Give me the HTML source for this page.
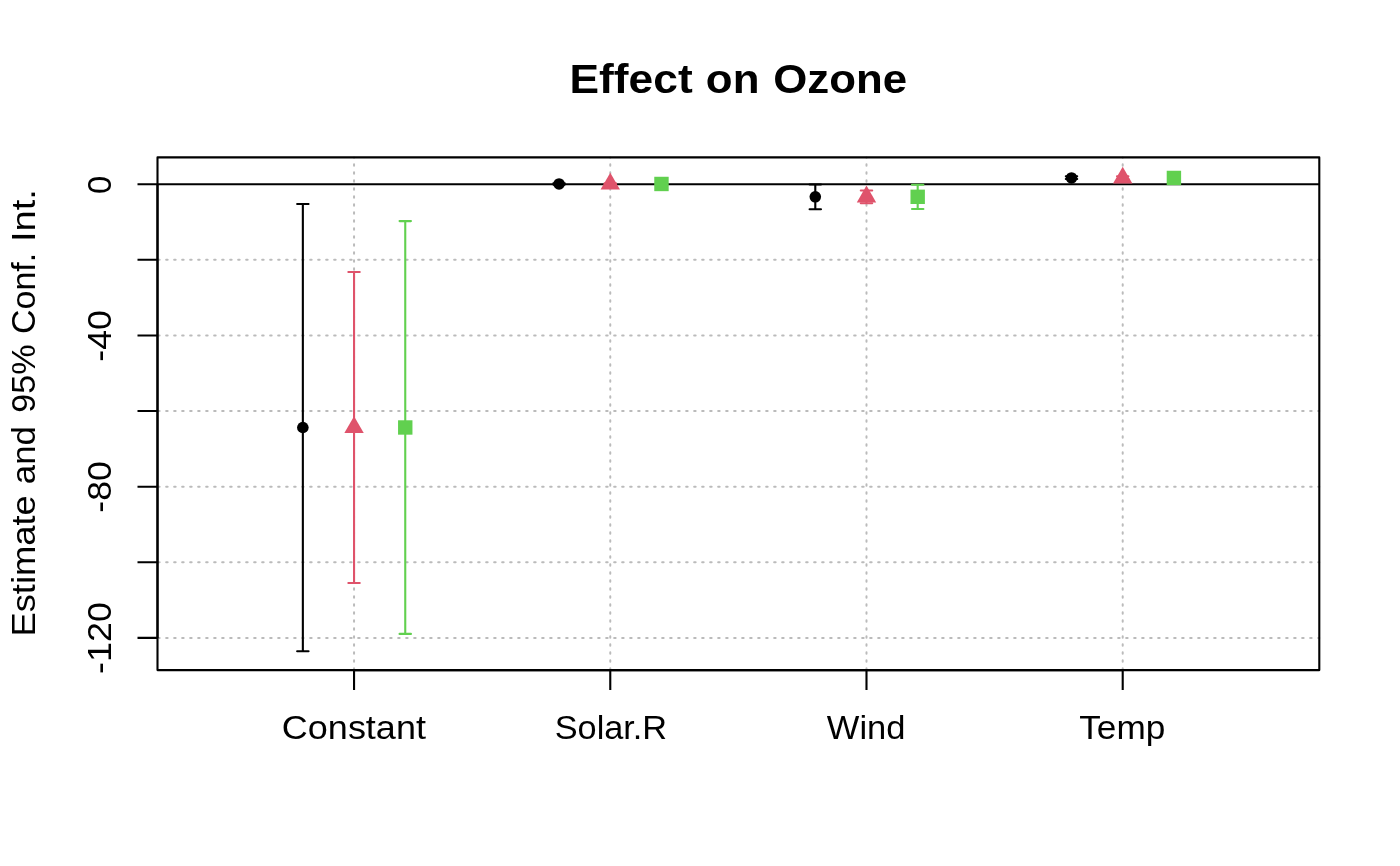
<!DOCTYPE html>
<html><head><meta charset="utf-8"><title>Effect on Ozone</title>
<style>
html,body{margin:0;padding:0;background:#fff;width:1400px;height:866px;overflow:hidden}
svg{display:block;will-change:transform}
text{font-family:"Liberation Sans",sans-serif;fill:#000}
</style></head><body>
<svg width="1400" height="866" viewBox="0 0 1400 866">
<rect width="1400" height="866" fill="#fff"/>
<line x1="354.05" y1="670.10" x2="354.05" y2="157.40" stroke="#bbbbbb" stroke-width="2" stroke-dasharray="1.5 6.5" stroke-dashoffset="-0.35" stroke-linecap="round"/>
<line x1="610.27" y1="670.10" x2="610.27" y2="157.40" stroke="#bbbbbb" stroke-width="2" stroke-dasharray="1.5 6.5" stroke-dashoffset="-0.35" stroke-linecap="round"/>
<line x1="866.49" y1="670.10" x2="866.49" y2="157.40" stroke="#bbbbbb" stroke-width="2" stroke-dasharray="1.5 6.5" stroke-dashoffset="-0.35" stroke-linecap="round"/>
<line x1="1122.71" y1="670.10" x2="1122.71" y2="157.40" stroke="#bbbbbb" stroke-width="2" stroke-dasharray="1.5 6.5" stroke-dashoffset="-0.35" stroke-linecap="round"/>
<line x1="157.50" y1="637.92" x2="1319.30" y2="637.92" stroke="#bbbbbb" stroke-width="2" stroke-dasharray="1.5 6.5" stroke-dashoffset="-0.65" stroke-linecap="round"/>
<line x1="157.50" y1="562.30" x2="1319.30" y2="562.30" stroke="#bbbbbb" stroke-width="2" stroke-dasharray="1.5 6.5" stroke-dashoffset="-0.65" stroke-linecap="round"/>
<line x1="157.50" y1="486.68" x2="1319.30" y2="486.68" stroke="#bbbbbb" stroke-width="2" stroke-dasharray="1.5 6.5" stroke-dashoffset="-0.65" stroke-linecap="round"/>
<line x1="157.50" y1="411.06" x2="1319.30" y2="411.06" stroke="#bbbbbb" stroke-width="2" stroke-dasharray="1.5 6.5" stroke-dashoffset="-0.65" stroke-linecap="round"/>
<line x1="157.50" y1="335.44" x2="1319.30" y2="335.44" stroke="#bbbbbb" stroke-width="2" stroke-dasharray="1.5 6.5" stroke-dashoffset="-0.65" stroke-linecap="round"/>
<line x1="157.50" y1="259.82" x2="1319.30" y2="259.82" stroke="#bbbbbb" stroke-width="2" stroke-dasharray="1.5 6.5" stroke-dashoffset="-0.65" stroke-linecap="round"/>
<line x1="157.50" y1="184.20" x2="1319.30" y2="184.20" stroke="#000" stroke-width="2.1"/>
<path d="M302.85 204.00V651.20M297.15 204.00H308.55M297.15 651.20H308.55" stroke="#000000" stroke-width="2.1" fill="none" stroke-linecap="round"/>
<path d="M354.05 272.00V583.00M348.35 272.00H359.75M348.35 583.00H359.75" stroke="#DF536B" stroke-width="2.1" fill="none" stroke-linecap="round"/>
<path d="M405.25 221.10V633.90M399.55 221.10H410.95M399.55 633.90H410.95" stroke="#61D04F" stroke-width="2.1" fill="none" stroke-linecap="round"/>
<path d="M559.07 183.20V184.60M553.37 183.20H564.77M553.37 184.60H564.77" stroke="#000000" stroke-width="2.1" fill="none" stroke-linecap="round"/>
<path d="M610.27 183.30V184.50M604.57 183.30H615.97M604.57 184.50H615.97" stroke="#DF536B" stroke-width="2.1" fill="none" stroke-linecap="round"/>
<path d="M661.47 183.20V184.60M655.77 183.20H667.17M655.77 184.60H667.17" stroke="#61D04F" stroke-width="2.1" fill="none" stroke-linecap="round"/>
<path d="M815.29 184.50V209.20M809.59 184.50H820.99M809.59 209.20H820.99" stroke="#000000" stroke-width="2.1" fill="none" stroke-linecap="round"/>
<path d="M866.49 190.50V203.30M860.79 190.50H872.19M860.79 203.30H872.19" stroke="#DF536B" stroke-width="2.1" fill="none" stroke-linecap="round"/>
<path d="M917.69 184.80V209.00M911.99 184.80H923.39M911.99 209.00H923.39" stroke="#61D04F" stroke-width="2.1" fill="none" stroke-linecap="round"/>
<path d="M1071.51 176.20V179.00M1065.81 176.20H1077.21M1065.81 179.00H1077.21" stroke="#000000" stroke-width="2.1" fill="none" stroke-linecap="round"/>
<path d="M1122.71 176.20V179.30M1117.01 176.20H1128.41M1117.01 179.30H1128.41" stroke="#DF536B" stroke-width="2.1" fill="none" stroke-linecap="round"/>
<path d="M1173.91 176.00V179.50M1168.21 176.00H1179.61M1168.21 179.50H1179.61" stroke="#61D04F" stroke-width="2.1" fill="none" stroke-linecap="round"/>
<circle cx="302.85" cy="427.48" r="5.8" fill="#000"/>
<path d="M354.05 416.28L363.75 433.08L344.35 433.08Z" fill="#DF536B"/>
<rect x="398.05" y="420.28" width="14.40" height="14.40" fill="#61D04F"/>
<circle cx="559.07" cy="183.97" r="5.8" fill="#000"/>
<path d="M610.27 172.77L619.97 189.57L600.57 189.57Z" fill="#DF536B"/>
<rect x="654.27" y="176.77" width="14.40" height="14.40" fill="#61D04F"/>
<circle cx="815.29" cy="196.80" r="5.8" fill="#000"/>
<path d="M866.49 185.60L876.19 202.40L856.79 202.40Z" fill="#DF536B"/>
<rect x="910.49" y="189.60" width="14.40" height="14.40" fill="#61D04F"/>
<circle cx="1071.51" cy="177.95" r="5.8" fill="#000"/>
<path d="M1122.71 166.75L1132.41 183.55L1113.01 183.55Z" fill="#DF536B"/>
<rect x="1166.71" y="170.75" width="14.40" height="14.40" fill="#61D04F"/>
<rect x="157.50" y="157.40" width="1161.80" height="512.70" fill="none" stroke="#000" stroke-width="2.1" stroke-linejoin="round"/>
<path d="M157.50 637.92V184.20M157.50 637.92H137.50M157.50 562.30H137.50M157.50 486.68H137.50M157.50 411.06H137.50M157.50 335.44H137.50M157.50 259.82H137.50M157.50 184.20H137.50" stroke="#000" stroke-width="2.1" fill="none"/>
<path d="M354.05 670.10H1122.71M354.05 670.10V690.10M610.27 670.10V690.10M866.49 670.10V690.10M1122.71 670.10V690.10" stroke="#000" stroke-width="2.1" fill="none"/>
<text x="631.10" y="92.90" font-size="40.7" font-weight="bold" text-anchor="middle" textLength="123.11" lengthAdjust="spacingAndGlyphs">Effect</text>
<text x="732.65" y="92.90" font-size="40.7" font-weight="bold" text-anchor="middle" textLength="53.59" lengthAdjust="spacingAndGlyphs">on</text>
<text x="840.12" y="92.90" font-size="40.7" font-weight="bold" text-anchor="middle" textLength="133.84" lengthAdjust="spacingAndGlyphs">Ozone</text>
<text x="353.90" y="738.80" font-size="33" text-anchor="middle" textLength="144.06" lengthAdjust="spacingAndGlyphs">Constant</text>
<text x="610.92" y="738.80" font-size="33" text-anchor="middle" textLength="112.40" lengthAdjust="spacingAndGlyphs">Solar.R</text>
<text x="866.15" y="738.80" font-size="33" text-anchor="middle" textLength="78.70" lengthAdjust="spacingAndGlyphs">Wind</text>
<text x="1122.29" y="738.80" font-size="33" text-anchor="middle" textLength="86.09" lengthAdjust="spacingAndGlyphs">Temp</text>
<text x="0" y="0" font-size="33" text-anchor="middle" textLength="18.22" lengthAdjust="spacingAndGlyphs" transform="translate(111.00 184.81) rotate(-90)">0</text>
<text x="0" y="0" font-size="33" text-anchor="middle" textLength="51.62" lengthAdjust="spacingAndGlyphs" transform="translate(111.00 335.96) rotate(-90)">-40</text>
<text x="0" y="0" font-size="33" text-anchor="middle" textLength="51.37" lengthAdjust="spacingAndGlyphs" transform="translate(111.00 487.00) rotate(-90)">-80</text>
<text x="0" y="0" font-size="33" text-anchor="middle" textLength="71.73" lengthAdjust="spacingAndGlyphs" transform="translate(111.00 638.02) rotate(-90)">-120</text>
<text x="0" y="0" font-size="33" text-anchor="middle" textLength="141.41" lengthAdjust="spacingAndGlyphs" transform="translate(35.10 565.87) rotate(-90)">Estimate</text>
<text x="0" y="0" font-size="33" text-anchor="middle" textLength="58.00" lengthAdjust="spacingAndGlyphs" transform="translate(35.10 455.21) rotate(-90)">and</text>
<text x="0" y="0" font-size="33" text-anchor="middle" textLength="68.33" lengthAdjust="spacingAndGlyphs" transform="translate(35.10 378.66) rotate(-90)">95%</text>
<text x="0" y="0" font-size="33" text-anchor="middle" textLength="81.01" lengthAdjust="spacingAndGlyphs" transform="translate(35.10 293.43) rotate(-90)">Conf.</text>
<text x="0" y="0" font-size="33" text-anchor="middle" textLength="52.99" lengthAdjust="spacingAndGlyphs" transform="translate(35.10 215.59) rotate(-90)">Int.</text>
</svg>
</body></html>
